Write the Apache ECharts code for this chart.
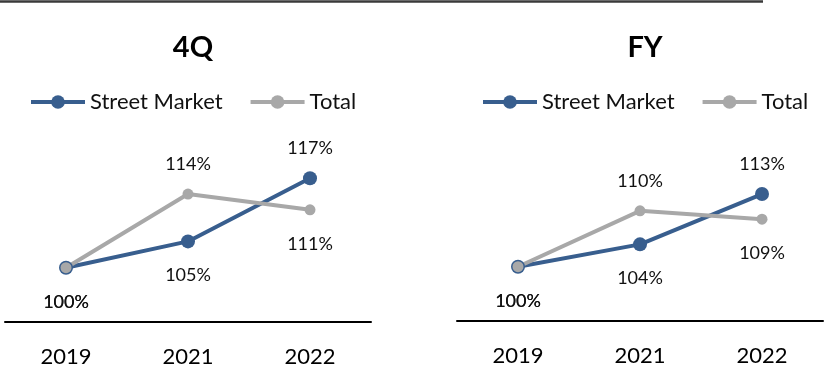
<!DOCTYPE html>
<html>
<head>
<meta charset="utf-8">
<script src="https://cdn.jsdelivr.net/npm/echarts@6/dist/echarts.min.js"></script>
<style>
html,body{margin:0;padding:0;background:#fff;}
#chart{width:827px;height:374px;}
</style>
</head>
<body>
<div id="chart"></div>
<script>
const categories = ['2019', '2021', '2022'];
const q4Street = [100, 105, 117];
const q4Total = [100, 114, 111];
const fyStreet = [100, 104, 113];
const fyTotal = [100, 110, 108.5];
const seriesNames = ['Street Market', 'Total'];
const panelTitles = ['4Q', 'FY'];

const FONT = 'Lato';
const BLUE = '#385E8E';
const GREY = '#A8A8A8';

function items(vals, other, size) {
  const extra = (14 - size) / 2;
  return vals.map((v, i) => {
    const above = v > other[i];
    return {
      value: v,
      label: { position: above ? 'top' : 'bottom', distance: (above ? 14 : 18) + extra }
    };
  });
}

function lineSeries(name, vals, other, idx, color, size) {
  return {
    type: 'line', name: name, xAxisIndex: idx, yAxisIndex: idx,
    data: items(vals, other, size),
    symbol: 'circle', symbolSize: size,
    lineStyle: { color: color, width: 4 },
    itemStyle: { color: color },
    label: {
      show: true, fontFamily: FONT, fontSize: 18, color: '#111',
      formatter: p => Math.round(p.value) + '%'
    },
    emphasis: { disabled: true }
  };
}

const xAxisBase = {
  type: 'category', data: categories, boundaryGap: true,
  axisLine: { show: true, lineStyle: { color: '#000', width: 2 } },
  axisTick: { show: false },
  axisLabel: { fontFamily: FONT, fontSize: 22, color: '#000', margin: 24 },
  splitLine: { show: false }
};
const yAxisBase = {
  type: 'value', show: false, splitLine: { show: false }
};

const legendBase = {
  data: seriesNames, orient: 'horizontal', padding: 0,
  itemWidth: 54, itemHeight: 17, itemGap: 26,
  lineStyle: { width: 4 },
  textStyle: { fontFamily: FONT, fontSize: 22, color: '#111' }
};

const chart = echarts.init(document.getElementById('chart'));
chart.setOption({
  animation: false,
  backgroundColor: '#fff',
  title: [
    { text: panelTitles[0], left: 188, top: 28, textAlign: 'center',
      textStyle: { fontFamily: FONT, fontSize: 29, fontWeight: 'bold', color: '#000' } },
    { text: panelTitles[1], left: 640, top: 28, textAlign: 'center',
      textStyle: { fontFamily: FONT, fontSize: 29, fontWeight: 'bold', color: '#000' } }
  ],
  legend: [
    Object.assign({}, legendBase, { left: 29, top: 91 }),
    Object.assign({}, legendBase, { left: 481, top: 91 })
  ],
  grid: [
    { left: 5, width: 366, top: 162.5, height: 159.5 },
    { left: 457, width: 366, top: 154.9, height: 166.1 }
  ],
  xAxis: [
    Object.assign({}, xAxisBase, { gridIndex: 0 }),
    Object.assign({}, xAxisBase, { gridIndex: 1 })
  ],
  yAxis: [
    Object.assign({}, yAxisBase, { gridIndex: 0, min: 89.68, max: 120 }),
    Object.assign({}, yAxisBase, { gridIndex: 1, min: 90.29, max: 120 })
  ],
  graphic: [
    { type: 'line', shape: { x1: 0, y1: 1.5, x2: 763, y2: 1.5 },
      style: { stroke: '#3a3a3a', lineWidth: 2.5 } }
  ],
  series: [
    lineSeries(seriesNames[0], q4Street, q4Total, 0, BLUE, 14),
    lineSeries(seriesNames[1], q4Total, q4Street, 0, GREY, 11),
    lineSeries(seriesNames[0], fyStreet, fyTotal, 1, BLUE, 14),
    lineSeries(seriesNames[1], fyTotal, fyStreet, 1, GREY, 11)
  ]
});
</script>
</body>
</html>
